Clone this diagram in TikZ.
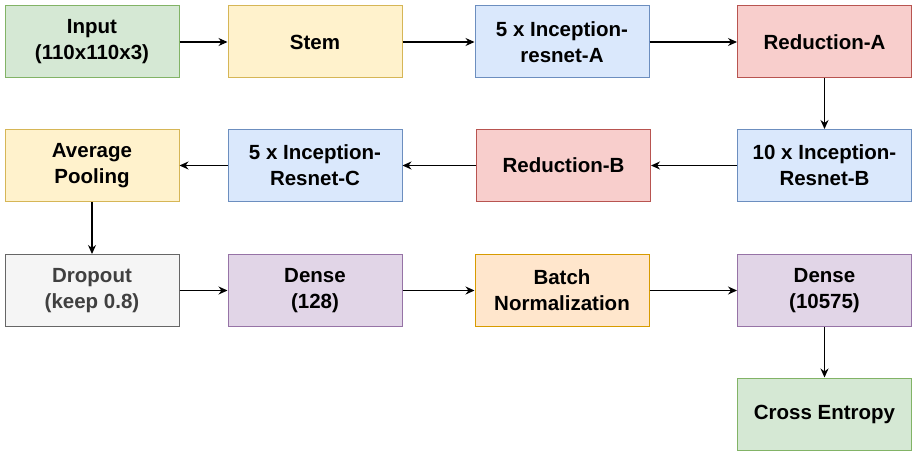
\documentclass[tikz,border=0pt]{standalone}
\usepackage{fontspec}
\setmainfont{Liberation Sans}
\usepackage{xcolor}
\usepackage{tikz}
\usetikzlibrary{arrows.meta}

\definecolor{greenf}{HTML}{D5E8D4}\definecolor{greend}{HTML}{82B366}
\definecolor{yellowf}{HTML}{FFF2CC}\definecolor{yellowd}{HTML}{D6B656}
\definecolor{bluef}{HTML}{DAE8FC}\definecolor{blued}{HTML}{6C8EBF}
\definecolor{redf}{HTML}{F8CECC}\definecolor{redd}{HTML}{B85450}
\definecolor{purplef}{HTML}{E1D5E7}\definecolor{purpled}{HTML}{9673A6}
\definecolor{greyf}{HTML}{F5F5F5}\definecolor{greyd}{HTML}{666666}
\definecolor{orangef}{HTML}{FFE6CC}\definecolor{oranged}{HTML}{D79B00}

\begin{document}
\begin{tikzpicture}[x=1pt,y=-1pt,
    blk/.style={shape=rectangle, draw, line width=1pt, minimum width=174pt, minimum height=72pt,
      align=center, font=\fontsize{20.5}{26}\selectfont\bfseries, inner sep=2pt},
    grn/.style={blk, fill=greenf, draw=greend},
    ylw/.style={blk, fill=yellowf, draw=yellowd},
    blu/.style={blk, fill=bluef, draw=blued},
    rd/.style={blk, fill=redf, draw=redd},
    ppl/.style={blk, fill=purplef, draw=purpled},
    gry/.style={blk, fill=greyf, draw=greyd, text=black!75},
    orn/.style={blk, fill=orangef, draw=oranged},
    arr/.style={line width=1.2pt, -{Stealth[length=9pt,width=8pt]}}]
    \useasboundingbox (0,0) rectangle (913,452);

    % first row
    \node[grn] (input) at (92,42) {Input\\(110x110x3)};
    \node[ylw] (stem) at (315,42) {Stem};
    \node[blu] (incA) at (562,42) {5 x Inception-\\resnet-A};
    \node[rd] (redA) at (824.5,42) {Reduction-A};

    % second row
    \node[blu] (incB) at (824.5,165.5) {10 x Inception-\\Resnet-B};
    \node[rd] (redB) at (563.5,165.5) {Reduction-B};
    \node[blu] (incC) at (315,165.5) {5 x Inception-\\Resnet-C};
    \node[ylw] (avgpool) at (92,165.5) {Average\\Pooling};

    % third row
    \node[gry] (dropout) at (92,290.5) {Dropout\\(keep 0.8)};
    \node[ppl] (dense1) at (315,290.5) {Dense\\(128)};
    \node[orn] (batchnorm) at (562,290.5) {Batch\\Normalization};
    \node[ppl] (dense2) at (824.5,290.5) {Dense\\(10575)};

    \node[grn] (xent) at (824.5,414) {Cross Entropy};

    \draw[arr] (input) -- (stem);
    \draw[arr] (stem) -- (incA);
    \draw[arr] (incA) -- (redA);
    \draw[arr] (redA) -- (incB);
    \draw[arr] (incB) -- (redB);
    \draw[arr] (redB) -- (incC);
    \draw[arr] (incC) -- (avgpool);
    \draw[arr] (avgpool) -- (dropout);
    \draw[arr] (dropout) -- (dense1);
    \draw[arr] (dense1) -- (batchnorm);
    \draw[arr] (batchnorm) -- (dense2);
    \draw[arr] (dense2) -- (xent);
  \end{tikzpicture}
\end{document}
